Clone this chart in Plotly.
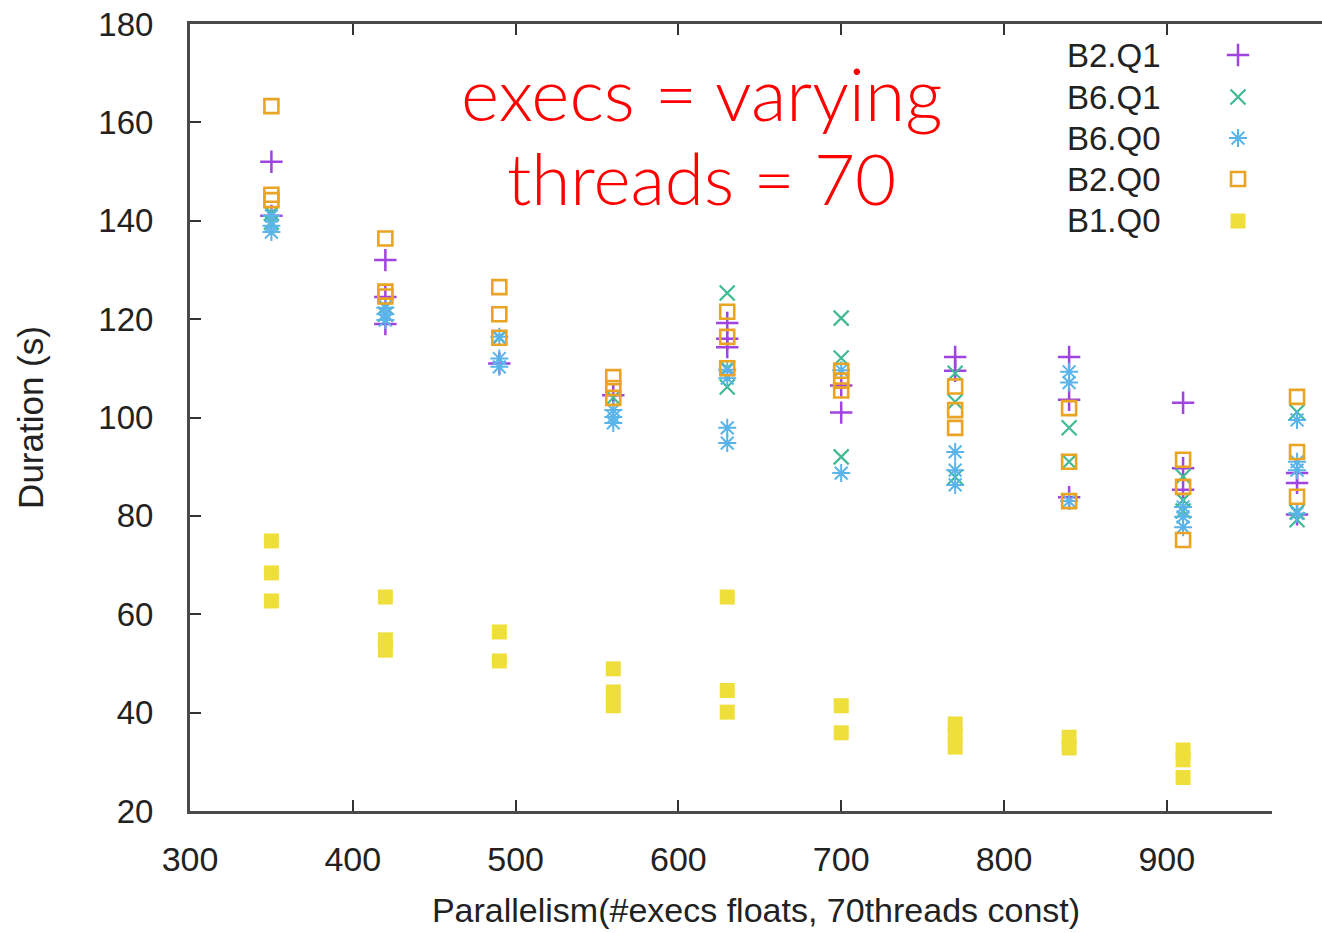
import plotly.graph_objects as go

# ---------------- data ----------------
series_names = ["B2.Q1", "B6.Q1", "B6.Q0", "B2.Q0", "B1.Q0"]

b2q1_x = [350, 350, 420, 420, 420, 490, 560, 630, 630, 630, 700, 700, 770, 770,
          840, 840, 840, 910, 910, 910, 980, 980, 980]
b2q1_y = [152, 141, 132, 124.5, 119, 111, 104.5, 119.2, 116, 114.3, 106.5, 101, 112.3, 109.5,
          112.3, 103.6, 83.8, 103, 89.7, 85.3, 88.7, 86.7, 80.3]

b6q1_x = [350, 350, 420, 420, 490, 560, 630, 630, 630, 700, 700, 700, 770, 770, 770,
          840, 840, 910, 910, 910, 980, 980, 980]
b6q1_y = [141.5, 139.7, 122.5, 121, 116.2, 104, 125.3, 110, 106.2, 120.2, 112.1, 92, 109, 103.2, 87.9,
          97.9, 91, 88, 83.2, 81, 101.1, 80.8, 79.2]

b6q0_x = [350, 350, 350, 420, 420, 420, 490, 490, 490, 560, 560, 560, 630, 630, 630, 630,
          700, 700, 770, 770, 770, 840, 840, 840, 910, 910, 910, 980, 980, 980, 980]
b6q0_y = [141, 139, 137.7, 122.3, 121, 119.8, 116.4, 112, 110.3, 101.5, 100.1, 98.9, 109.7, 108, 97.9, 94.8,
          109.6, 88.7, 93, 89.3, 86.3, 109.3, 107.1, 83, 81.8, 79.8, 77.7, 99.5, 91, 89.3, 80.5]

b2q0_x = [350, 350, 350, 420, 420, 420, 490, 490, 490, 560, 560, 560, 630, 630, 630,
          700, 700, 700, 770, 770, 770, 840, 840, 840, 910, 910, 910, 980, 980, 980]
b2q0_y = [163.3, 145.3, 144.2, 136.4, 125.6, 124.6, 126.5, 121, 116.2, 108.2, 106, 104, 121.5, 116.4, 110,
          109.5, 107.5, 105.5, 106.3, 101.5, 97.9, 101.9, 91, 83, 91.4, 85.9, 75.1, 104.2, 93, 83.9]

b1q0_x = [350, 350, 350, 420, 420, 420, 490, 490, 560, 560, 560, 630, 630, 630,
          700, 700, 770, 770, 770, 840, 840, 910, 910, 910]
b1q0_y = [74.9, 68.4, 62.7, 63.5, 54.8, 52.7, 56.4, 50.5, 48.9, 44.2, 41.4, 63.5, 44.5, 40.1,
          41.4, 35.9, 37.7, 35.5, 33.0, 35, 32.8, 32.4, 30.4, 26.8]

x_ticks = [300, 400, 500, 600, 700, 800, 900]
y_ticks = [20, 40, 60, 80, 100, 120, 140, 160, 180]

x_title = "Parallelism(#execs floats, 70threads const)"
y_title = "Duration (s)"
note_line1 = "execs = varying"
note_line2 = "threads = 70"

# ---------------- styling ----------------
colors = ["#a044e0", "#3fba95", "#5ab4ea", "#e9a424", "#eedf3a"]
symbols = ["cross-thin", "x-thin", "asterisk-open", "square-open", "square"]
sizes = [16, 15, 15, 14, 15]
lwidths = [2.5, 2.2, 2.0, 2.6, 0]

xs = [b2q1_x, b6q1_x, b6q0_x, b2q0_x, b1q0_x]
ys = [b2q1_y, b6q1_y, b6q0_y, b2q0_y, b1q0_y]

fig = go.Figure()
for name, x, y, c, s, sz, lw in zip(series_names, xs, ys, colors, symbols, sizes, lwidths):
    fig.add_trace(go.Scatter(
        x=x, y=y, mode="markers", name=name, showlegend=False,
        marker=dict(symbol=s, size=sz, color=c, line=dict(color=c, width=lw)),
    ))

# legend keys (text left, marker right, gnuplot style) on an overlay unit axis
leg_y = [0.9606, 0.9072, 0.8551, 0.8030, 0.7497]
for i, (name, c, s, sz, lw) in enumerate(zip(series_names, colors, symbols, sizes, lwidths)):
    fig.add_trace(go.Scatter(
        x=[0.9258], y=[leg_y[i]], mode="markers", showlegend=False, hoverinfo="skip",
        xaxis="x2", yaxis="y2",
        marker=dict(symbol=s, size=sz, color=c, line=dict(color=c, width=lw)),
    ))
    fig.add_annotation(x=0.8595, y=leg_y[i], xref="paper", yref="paper",
                       text=name, showarrow=False, xanchor="right", yanchor="middle",
                       font=dict(family="Liberation Sans, Arial", size=33, color="#222"))

W, H = 1322, 933
L, R, T, B = 190, 0, 24, 122
px_per_unit = 1.628
x_max = 300 + (W - L - R) / px_per_unit

sans = "Liberation Sans, Arial"

fig.update_layout(
    width=W, height=H,
    margin=dict(l=L, r=R, t=T, b=B, pad=0),
    paper_bgcolor="white", plot_bgcolor="white",
    showlegend=False,
    xaxis=dict(
        range=[300, x_max], tickvals=x_ticks, ticktext=[str(v) for v in x_ticks],
        ticks="inside", ticklen=11, tickwidth=2, tickcolor="#333",
        showline=True, linewidth=3, linecolor="#4a4a4a", mirror="ticks",
        showgrid=False, zeroline=False,
        tickfont=dict(family=sans, size=34, color="#222"),
        ticklabelstandoff=16,
        title=dict(text=x_title, font=dict(family=sans, size=34, color="#222"), standoff=22),
    ),
    yaxis=dict(
        range=[20, 180], tickvals=y_ticks, ticktext=[str(v) for v in y_ticks],
        ticks="inside", ticklen=11, tickwidth=2, tickcolor="#333",
        showline=True, linewidth=3, linecolor="#4a4a4a", mirror=False,
        showgrid=False, zeroline=False,
        tickfont=dict(family=sans, size=33, color="#222"),
        ticklabelstandoff=27,
        title=dict(text=y_title, font=dict(family=sans, size=35, color="#222"), standoff=45),
    ),
    xaxis2=dict(range=[0, 1], overlaying="x", anchor="y2", visible=False),
    yaxis2=dict(range=[0, 1], overlaying="y", anchor="x2", visible=False),
)

# bottom border in the reference stops short of the right edge
fig.add_shape(type="rect", xref="paper", yref="paper",
              x0=(1272 - L) / (W - L - R), x1=1.02, y0=-0.008, y1=0.008,
              fillcolor="white", line=dict(width=0), layer="above")

# red note
fig.add_annotation(x=(701 - L) / (W - L - R), y=1 - (93 - T) / (H - T - B),
                   xref="paper", yref="paper", text=note_line1, showarrow=False,
                   xanchor="center", yanchor="middle",
                   font=dict(family="Lato, Liberation Sans", size=73, color="#ff0000", weight=300))
fig.add_annotation(x=(701 - L) / (W - L - R), y=1 - (177 - T) / (H - T - B),
                   xref="paper", yref="paper", text=note_line2, showarrow=False,
                   xanchor="center", yanchor="middle",
                   font=dict(family="Lato, Liberation Sans", size=71, color="#ff0000", weight=300))

fig.write_html("out.html")
